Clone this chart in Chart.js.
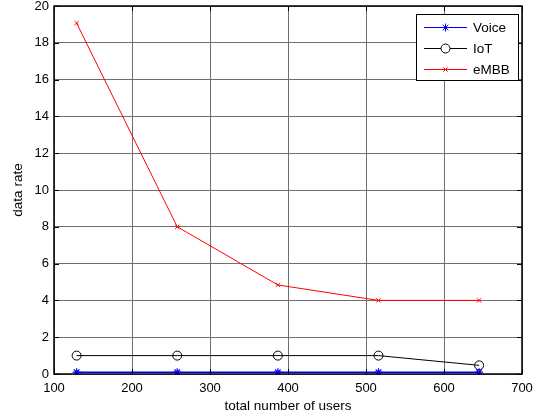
<!DOCTYPE html>
<html>
<head>
<meta charset="utf-8">
<script src="https://cdn.jsdelivr.net/npm/chart.js@4"></script>
<style>
html,body{margin:0;padding:0;background:#fff;}
#wrap{width:535px;height:419px;position:relative;}
</style>
</head>
<body>
<div id="wrap"><canvas id="c" width="535" height="419"></canvas></div>
<script>
const users = [129, 258, 387, 516, 645];
const voice = [0.1, 0.1, 0.1, 0.1, 0.1];
const iot = [1, 1, 1, 1, 0.47];
const embb = [19.07, 8.0, 4.84, 4.0, 4.0];
const seriesNames = ['Voice', 'IoT', 'eMBB'];
const xTitle = 'total number of users';
const yTitle = 'data rate';

const FONT = '"Liberation Sans", Arial, Helvetica, sans-serif';

function pts(vals){ return users.map((u,i)=>({x:u,y:vals[i]})); }

function zeroPad(s){ s.paddingLeft = 0; s.paddingRight = 0; s.paddingTop = 0; s.paddingBottom = 0; }

const boxPlugin = {
  id: 'matlabBox',
  afterDraw(chart){
    const ctx = chart.ctx, a = chart.chartArea;
    const xs = chart.scales.x, ys = chart.scales.y;
    ctx.save();
    ctx.strokeStyle = '#000';
    ctx.lineWidth = 1.5;
    ctx.strokeRect(a.left, a.top, a.right - a.left, a.bottom - a.top);
    ctx.lineWidth = 1;
    const L = 5;
    ctx.beginPath();
    xs.ticks.forEach(t=>{
      const px = Math.round(xs.getPixelForValue(t.value)) + 0.5;
      ctx.moveTo(px, a.bottom); ctx.lineTo(px, a.bottom - L);
      ctx.moveTo(px, a.top); ctx.lineTo(px, a.top + L);
    });
    ys.ticks.forEach(t=>{
      const py = Math.round(ys.getPixelForValue(t.value)) + 0.5;
      ctx.moveTo(a.left, py); ctx.lineTo(a.left + L, py);
      ctx.moveTo(a.right, py); ctx.lineTo(a.right - L, py);
    });
    ctx.stroke();

    // legend
    const lw = 102, lh = 66;
    const lx = a.right - 4 - lw, ly = a.top + 8;
    ctx.fillStyle = '#fff';
    ctx.fillRect(lx, ly, lw, lh);
    ctx.strokeStyle = '#000';
    ctx.lineWidth = 1;
    ctx.strokeRect(Math.round(lx)+0.5, Math.round(ly)+0.5, lw, lh);
    const rows = [12.7, 34, 55];
    chart.data.datasets.forEach((ds, i)=>{
      const y = Math.round(ly + rows[i]) + 0.5;
      ctx.strokeStyle = ds.borderColor;
      ctx.lineWidth = 1;
      ctx.beginPath();
      ctx.moveTo(lx + 8, y); ctx.lineTo(lx + 51, y);
      ctx.stroke();
      ctx.strokeStyle = ds.pointBorderColor;
      ctx.fillStyle = '#fff';
      Chart.helpers.drawPoint(ctx, {
        pointStyle: ds.pointStyle, radius: ds.pointRadius, borderWidth: 1
      }, lx + 29.5, y);
      ctx.fillStyle = '#000';
      ctx.font = '13.5px ' + FONT;
      ctx.textBaseline = 'middle';
      ctx.textAlign = 'left';
      ctx.fillText(ds.label, lx + 57, y + 0.5);
    });
    ctx.restore();
  }
};

new Chart(document.getElementById('c'), {
  type: 'line',
  data: {
    datasets: [
      {label: seriesNames[0], data: pts(voice), borderColor: '#0000ff', backgroundColor: 'rgba(0,0,0,0)',
       borderWidth: 1.5, pointStyle: 'star', pointRadius: 4, pointBorderColor: '#0000ff', pointBorderWidth: 1.2},
      {label: seriesNames[1], data: pts(iot), borderColor: '#000000', backgroundColor: 'rgba(0,0,0,0)',
       borderWidth: 1, pointStyle: 'circle', pointRadius: 4.5, pointBorderColor: '#000', pointBackgroundColor: 'rgba(0,0,0,0)', pointBorderWidth: 1},
      {label: seriesNames[2], data: pts(embb), borderColor: '#ff0000', backgroundColor: 'rgba(0,0,0,0)',
       borderWidth: 1, pointStyle: 'crossRot', pointRadius: 3, pointBorderColor: '#ff0000', pointBorderWidth: 1}
    ]
  },
  options: {
    responsive: false,
    animation: false,
    devicePixelRatio: 1,
    layout: {padding: {left: 0, right: 13, top: 6, bottom: 0}},
    plugins: {legend: {display: false}, tooltip: {enabled: false}},
    elements: {line: {tension: 0}},
    scales: {
      x: {
        type: 'linear', min: 100, max: 700,
        ticks: {stepSize: 100, color: '#000', font: {family: FONT, size: 13}, padding: 7, maxRotation: 0},
        grid: {color: '#6e6e6e', lineWidth: 1, drawTicks: false},
        border: {display: false},
        title: {display: true, text: xTitle, color: '#000', font: {family: FONT, size: 13.5}, padding: {top: 0, bottom: 5}},
        afterFit(s){ s.height = 45; zeroPad(s); }
      },
      y: {
        type: 'linear', min: 0, max: 20,
        ticks: {stepSize: 2, color: '#000', font: {family: FONT, size: 13}, padding: 5},
        grid: {color: '#6e6e6e', lineWidth: 1, drawTicks: false},
        border: {display: false},
        title: {display: true, text: yTitle, color: '#000', font: {family: FONT, size: 13.5}, padding: {top: 10, bottom: 0}},
        afterFit(s){ s.width = 54; zeroPad(s); }
      }
    }
  },
  plugins: [boxPlugin]
});
</script>
</body>
</html>
